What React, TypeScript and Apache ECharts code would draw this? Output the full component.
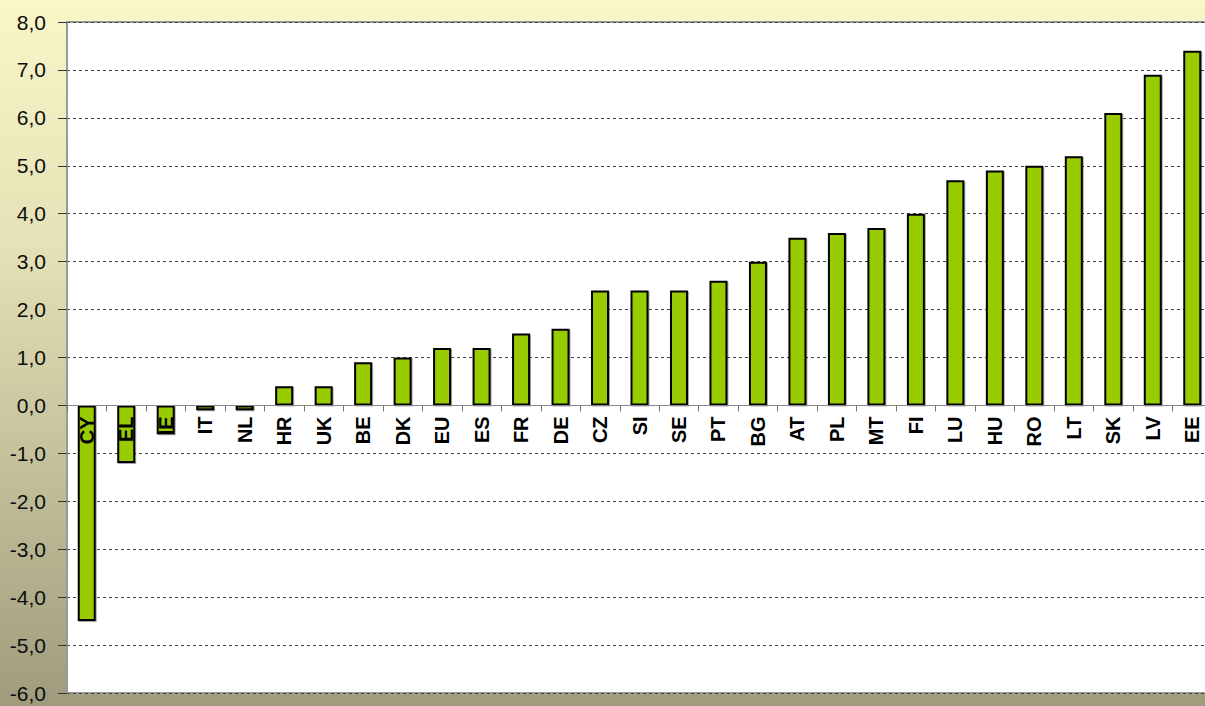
import React, { useEffect, useRef } from "react";
import * as echarts from "echarts";

const categories = ["CY","EL","IE","IT","NL","HR","UK","BE","DK","EU","ES","FR","DE","CZ","SI","SE","PT","BG","AT","PL","MT","FI","LU","HU","RO","LT","SK","LV","EE"];
const values = [-4.5,-1.2,-0.6,-0.1,-0.1,0.4,0.4,0.9,1.0,1.2,1.2,1.5,1.6,2.4,2.4,2.4,2.6,3.0,3.5,3.6,3.7,4.0,4.7,4.9,5.0,5.2,6.1,6.9,7.4];
const yMin = -6;
const yMax = 8;
const yStep = 1;

export default function App() {
  const ref = useRef<HTMLDivElement>(null);
  useEffect(() => {
    if (!ref.current) return;
    const chart = echarts.init(ref.current, undefined, { renderer: "svg" });
    const top = 22;
    const bottomEdge = 693;
    const plotH = bottomEdge - top;
    const zeroY = top + (yMax / (yMax - yMin)) * plotH;
    chart.setOption({
      animation: false,
      backgroundColor: new echarts.graphic.LinearGradient(0, 0, 0, 1, [
        { offset: 0, color: "#F9F7C8" },
        { offset: 0.35, color: "#E4E1B6" },
        { offset: 1, color: "#9E9C7D" },
      ]),
      grid: {
        left: 67,
        top: top,
        width: 1145,
        height: plotH,
        show: true,
        backgroundColor: "#FFFFFF",
        borderColor: "#999999",
        borderWidth: 2,
      },
      xAxis: {
        type: "category",
        data: categories,
        z: 3,
        position: "bottom",
        offset: -(bottomEdge - zeroY),
        axisLine: { onZero: false, lineStyle: { color: "#888888", width: 1 } },
        axisTick: { show: true, length: 6, lineStyle: { color: "#777777" } },
        axisLabel: {
          rotate: 90,
          margin: 11,
          fontSize: 20,
          fontWeight: "bold",
          color: "#000000",
          fontFamily: "Liberation Sans, Arial, sans-serif",
        },
      },
      yAxis: {
        type: "value",
        min: yMin,
        max: yMax,
        interval: yStep,
        axisLine: { show: true, lineStyle: { color: "#999999", width: 2 } },
        axisTick: { show: true, length: 9, lineStyle: { color: "#333333", width: 1 } },
        axisLabel: {
          margin: 21,
          fontSize: 21,
          color: "#0d0d0d",
          fontFamily: "Liberation Sans, Arial, sans-serif",
          formatter: (v: number) => v.toFixed(1).replace(".", ","),
        },
        splitLine: { show: true, lineStyle: { color: "#444444", type: [3, 3], width: 1 } },
      },
      series: [
        {
          type: "bar",
          data: values,
          barWidth: 18,
          itemStyle: {
            color: "#99CC00",
            borderColor: "#000000",
            borderWidth: 2,
            shadowColor: "rgba(0,0,0,0.35)",
            shadowOffsetX: 1,
            shadowOffsetY: 1,
            shadowBlur: 1,
          },
        },
      ],
    });
    return () => chart.dispose();
  }, []);
  return (
    <div style={{ position: "fixed", left: 0, top: 0, width: 1205, height: 706, overflow: "hidden" }}>
      <div ref={ref} style={{ width: 1222, height: 706 }} />
    </div>
  );
}
